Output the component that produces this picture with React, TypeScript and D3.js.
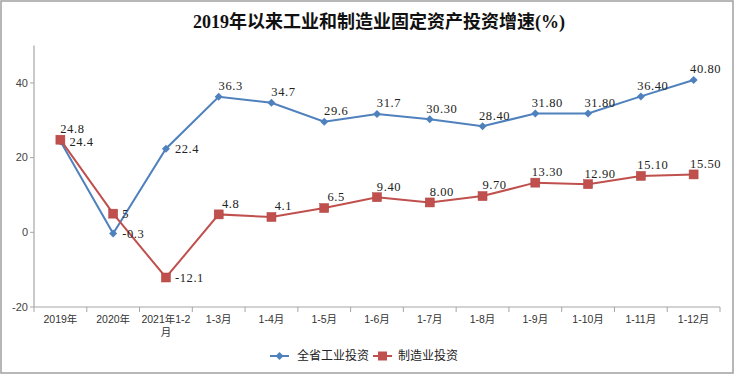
import React from 'react';
import * as d3 from 'd3';

const categories = ['2019年', '2020年', '2021年1-2月', '1-3月', '1-4月', '1-5月', '1-6月', '1-7月', '1-8月', '1-9月', '1-10月', '1-11月', '1-12月'];
const industryValues = [24.4, -0.3, 22.4, 36.3, 34.7, 29.6, 31.7, 30.3, 28.4, 31.8, 31.8, 36.4, 40.8];
const industryLabels = ['24.4', '-0.3', '22.4', '36.3', '34.7', '29.6', '31.7', '30.30', '28.40', '31.80', '31.80', '36.40', '40.80'];
const manufValues = [24.8, 5, -12.1, 4.8, 4.1, 6.5, 9.4, 8.0, 9.7, 13.3, 12.9, 15.1, 15.5];
const manufLabels = ['24.8', '5', '-12.1', '4.8', '4.1', '6.5', '9.40', '8.00', '9.70', '13.30', '12.90', '15.10', '15.50'];
const yTicks = [-20, 0, 20, 40];
const seriesNames = ['全省工业投资', '制造业投资'];
const title = '2019年以来工业和制造业固定资产投资增速(%)';

// label placement style: 'r' = right of point, 't' = above
const industryLabelSide = ['r', 'r', 'r', 't', 't', 't', 't', 't', 't', 't', 't', 't', 't'];
const manufLabelSide = ['t', 'r', 'r', 't', 't', 't', 't', 't', 't', 't', 't', 't', 't'];

const BLUE = '#4f81bd';
const RED = '#c0504d';
const AXIS = '#a6a6a6';
const LABEL_FONT = '"Liberation Serif", "DejaVu Serif", serif';
const SANS = '"Liberation Sans", "Noto Sans CJK SC", sans-serif';
const CJK = '"Noto Sans CJK SC", sans-serif';

export default function App() {
  const W = 737, H = 376;
  const x0 = 34, x1 = 720, yBottom = 307, yTop = 45.6;
  const x = d3.scaleBand<string>().domain(categories).range([x0, x1]).padding(0);
  const y = d3.scaleLinear().domain([-20, 50]).range([yBottom, yTop]);
  const cx = (c: string) => (x(c) as number) + x.bandwidth() / 2;

  const line = d3.line<number>().x((_, i) => cx(categories[i])).y(v => y(v));

  const boundaries = categories.map(c => x(c) as number).concat([x1]);

  const labelPos = (side: string, px: number, py: number) =>
    side === 'r' ? { x: px + 9, y: py, anchor: 'start' } : { x: px + 12, y: py - 11, anchor: 'middle' };

  const diamond = (px: number, py: number, r: number) =>
    `M${px},${py - r}L${px + r},${py}L${px},${py + r}L${px - r},${py}Z`;

  const renderTickLabel = (c: string, i: number) => {
    const px = cx(c);
    const m = c.match(/^(2021年1-2)(月)$/);
    if (m) {
      return (
        <text key={i} x={px} y={319} textAnchor="middle" fontFamily={SANS} fontSize={10.5} fill="#333">
          <tspan x={px} dy="0.35em">{m[1]}</tspan>
          <tspan x={px} dy="1.25em">{m[2]}</tspan>
        </text>
      );
    }
    return (
      <text key={i} x={px} y={319} dy="0.35em" textAnchor="middle" fontFamily={SANS} fontSize={10.5} fill="#333">{c}</text>
    );
  };

  return (
    <svg width={W} height={H} style={{ position: 'absolute', left: 0, top: 0, background: '#fff' }}>
      <rect x={0} y={0} width={W} height={H} fill="#fff" />
      <rect x={1} y={1} width={732} height={372} fill="#fff" stroke="#a0a0a0" strokeWidth={1.5} />
      <text x={379} y={22} dy="0.35em" textAnchor="middle" fontFamily={'"Liberation Serif", "Noto Sans CJK SC", serif'} fontWeight="bold" fontSize={18} fill="#111">{title}</text>

      {/* y axis */}
      <line x1={x0} x2={x0} y1={yTop} y2={yBottom} stroke={AXIS} strokeWidth={1.2} />
      {yTicks.map(t => (
        <g key={t}>
          <line x1={x0 - 4} x2={x0} y1={y(t)} y2={y(t)} stroke={AXIS} strokeWidth={1} />
          <text x={x0 - 6} y={y(t)} dy="0.35em" textAnchor="end" fontFamily={SANS} fontSize={11} fill="#444">{String(t)}</text>
        </g>
      ))}

      {/* x axis */}
      <line x1={x0} x2={x1} y1={yBottom} y2={yBottom} stroke={AXIS} strokeWidth={1.2} />
      {boundaries.map((bx, i) => (
        <line key={i} x1={bx} x2={bx} y1={yBottom} y2={yBottom + 5} stroke={AXIS} strokeWidth={1} />
      ))}
      {categories.map(renderTickLabel)}

      {/* series lines */}
      <path d={line(industryValues) || ''} fill="none" stroke={BLUE} strokeWidth={2} />
      <path d={line(manufValues) || ''} fill="none" stroke={RED} strokeWidth={2} />

      {industryValues.map((v, i) => (
        <path key={'bm' + i} d={diamond(cx(categories[i]), y(v), 4)} fill={BLUE} />
      ))}
      {manufValues.map((v, i) => (
        <rect key={'rm' + i} x={cx(categories[i]) - 4.5} y={y(v) - 4.5} width={9} height={9} fill={RED} stroke="#b04340" strokeWidth={0.5} />
      ))}

      {/* data labels */}
      {industryValues.map((v, i) => {
        const p = labelPos(industryLabelSide[i], cx(categories[i]), y(v));
        return (
          <text key={'bl' + i} x={p.x} y={p.y} dy="0.35em" textAnchor={p.anchor as any} fontFamily={LABEL_FONT} fontSize={12.5} letterSpacing={0.6} fill="#222">{industryLabels[i]}</text>
        );
      })}
      {manufValues.map((v, i) => {
        const p = labelPos(manufLabelSide[i], cx(categories[i]), y(v));
        return (
          <text key={'rl' + i} x={p.x} y={p.y} dy="0.35em" textAnchor={p.anchor as any} fontFamily={LABEL_FONT} fontSize={12.5} letterSpacing={0.6} fill="#222">{manufLabels[i]}</text>
        );
      })}

      {/* legend */}
      <g>
        <line x1={270} x2={289} y1={356} y2={356} stroke={BLUE} strokeWidth={2} />
        <path d={diamond(279.5, 356, 4)} fill={BLUE} />
        <text x={297} y={356} dy="0.35em" fontFamily={CJK} fontSize={12} fill="#222">{seriesNames[0]}</text>
        <line x1={373} x2={392} y1={356} y2={356} stroke={RED} strokeWidth={2} />
        <rect x={378} y={351.5} width={9} height={9} fill={RED} />
        <text x={398} y={356} dy="0.35em" fontFamily={CJK} fontSize={12} fill="#222">{seriesNames[1]}</text>
      </g>
    </svg>
  );
}
